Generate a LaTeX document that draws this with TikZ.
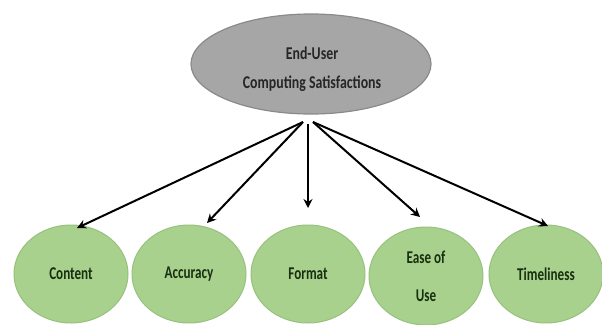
\documentclass[tikz,border=0pt]{standalone}
\usepackage{fontspec}
\setmainfont{Carlito}
\newfontfamily\leaffont{Carlito}[FakeStretch=0.73]
\newfontfamily\rootfont{Carlito}[FakeStretch=0.77]
\usetikzlibrary{arrows.meta,shapes.geometric,calc}
\definecolor{rootfill}{HTML}{A6A6A6}
\definecolor{rootline}{HTML}{8A8A8A}
\definecolor{leaffill}{HTML}{A9D18E}
\definecolor{leafline}{HTML}{98C07E}
\definecolor{leaftext}{HTML}{183010}
\definecolor{roottext}{HTML}{262626}
\tikzset{
  rootnode/.style={ellipse, fill=rootfill, draw=rootline, line width=1.2pt,
    minimum width=240pt, minimum height=100pt, inner sep=0pt},
  roottextnode/.style={font=\rootfont\fontsize{18}{18}\selectfont\bfseries,
    text=roottext, align=center, inner sep=0pt},
  leafnode/.style={ellipse, fill=leaffill, draw=leafline, line width=1pt,
    minimum width=114pt, minimum height=98pt, inner sep=0pt,
    font=\leaffont\fontsize{18}{18}\selectfont\bfseries, text=leaftext, align=center},
  link/.style={line width=2pt, -{Stealth[length=9pt,width=9pt,inset=3pt]}}
}
\begin{document}
\begin{tikzpicture}[x=1pt,y=-1pt]
\useasboundingbox (0,0) rectangle (602,324);
\fill[white] (0,0) rectangle (602,324);
\node[rootnode] (root) at (311,64) {};
\node[roottextnode] (roottext) at (312,69) {End-User\\[11pt]Computing Satisfactions};
\node[leafnode] (content) at (71,274) {Content};
\node[leafnode] (accuracy) at (189,274) {Accuracy};
\node[leafnode] (format) at (308,274) {Format};
\node[leafnode] (ease) at (426,276) {Ease of\\[20pt]Use};
\node[leafnode] (time) at (546,274) {Timeliness};
\coordinate (sL) at (303,122);
\coordinate (sM) at (308,124);
\coordinate (sR) at (313,122);
\coordinate (tC) at (77,228);
\coordinate (tA) at (207,223);
\coordinate (tF) at (308,208);
\coordinate (tE) at (420,217);
\coordinate (tT) at (548,226);
\draw[link] (sL) -- (tC);
\draw[link] (sL) -- (tA);
\draw[link] (sM) -- (tF);
\draw[link] (sR) -- (tE);
\draw[link] (sR) -- (tT);
\end{tikzpicture}
\end{document}
